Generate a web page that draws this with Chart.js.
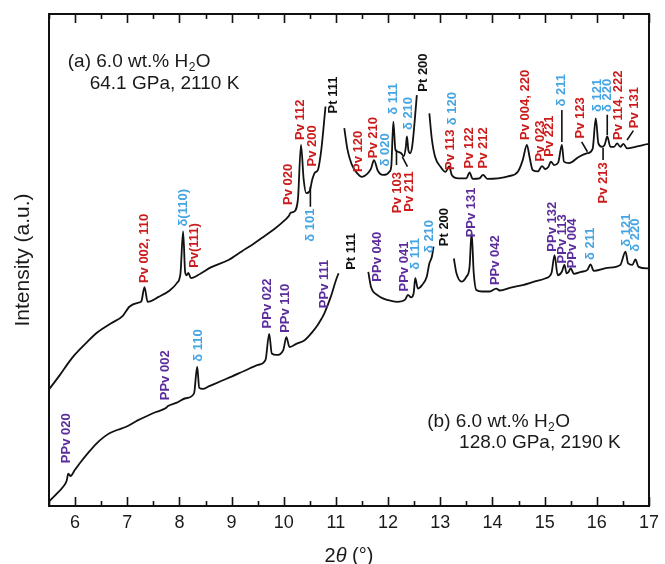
<!DOCTYPE html>
<html>
<head>
<meta charset="utf-8">
<script src="https://cdn.jsdelivr.net/npm/chart.js@4.4.0/dist/chart.umd.min.js"></script>
<style>
  html, body { margin: 0; padding: 0; background: #fff; }
  canvas { display: block; }
</style>
</head>
<body>
<canvas id="xrdChart" width="665" height="564"></canvas>
<script>
// x axis tick labels (2-theta, degrees)
var xTicks = [6, 7, 8, 9, 10, 11, 12, 13, 14, 15, 16, 17];

// pattern (a) 64.1 GPa, 2110 K -- null marks where the Pt peaks were cut out
var thetaA = [5.5, 5.7, 5.9, 6.0, 6.2, 6.43, 6.7, 6.91, 7.04, 7.2, 7.27, 7.33, 7.39, 7.6, 7.8, 7.95, 8.02, 8.07, 8.11, 8.14, 8.17, 8.22, 8.4, 8.6, 8.94, 9.2, 9.41, 9.57, 9.82, 10.02, 10.1, 10.13, 10.19, 10.27, 10.33, 10.38, 10.43, 10.49, 10.55, 10.6, 10.65, 10.72, 10.8,
  11.0,
  11.16, 11.22, 11.3, 11.4, 11.5, 11.6, 11.67, 11.73, 11.8, 11.9, 11.97, 12.02, 12.06, 12.1, 12.14, 12.19, 12.25, 12.3, 12.34, 12.36, 12.39, 12.42, 12.46, 12.5, 12.55,
  12.7,
  12.79, 12.84, 12.9, 13.0, 13.1, 13.17, 13.22, 13.35, 13.5, 13.56, 13.62, 13.75, 13.82, 13.9, 14.1, 14.3, 14.49, 14.58, 14.66, 14.71, 14.77, 14.87, 14.95, 15.01, 15.07, 15.12, 15.18, 15.26, 15.33, 15.37, 15.47, 15.66, 15.82, 15.92, 15.98, 16.03, 16.1, 16.15, 16.2, 16.26, 16.33, 16.39, 16.45, 16.51, 16.58, 16.74, 16.9, 17.0];
var intensityA = [23.7, 26.5, 29.5, 30.8, 33.0, 35.3, 37.2, 38.6, 40.5, 41.3, 41.6, 44.5, 41.5, 42.5, 43.7, 45.3, 47.3, 55.8, 47.5, 46.9, 47.4, 46.3, 47.2, 48.5, 50.0, 51.8, 53.2, 54.4, 56.3, 58.1, 59.0, 59.6, 59.8, 62.2, 73.4, 66.5, 63.6, 63.9, 66.5, 67.8, 68.2, 72.5, 81.2,
  null,
  76.8, 72.5, 69.5, 67.7, 66.9, 67.5, 68.5, 70.3, 68.2, 67.3, 67.4, 67.9, 69.0, 78.1, 72.4, 72.0, 71.7, 71.1, 73.0, 75.1, 72.2, 71.7, 73.0, 77.1, 83.5,
  null,
  79.8, 74.4, 71.0, 69.0, 67.9, 69.0, 67.3, 66.6, 66.6, 67.8, 66.5, 66.6, 67.3, 66.5, 66.6, 67.0, 68.0, 70.3, 73.4, 71.0, 68.3, 68.0, 69.1, 68.5, 68.9, 70.0, 69.3, 69.8, 73.4, 70.0, 69.7, 71.0, 71.7, 72.6, 78.8, 73.7, 73.0, 73.4, 75.1, 73.0, 73.0, 73.7, 73.0, 73.6, 72.7, 73.0, 73.4, 73.6];

// pattern (b) 128.0 GPa, 2190 K
var thetaB = [5.5, 5.65, 5.77, 5.84, 5.87, 5.91, 6.0, 6.09, 6.25, 6.41, 6.55, 6.66, 6.82, 6.98, 7.2, 7.36, 7.55, 7.74, 7.78, 7.95, 8.12, 8.28, 8.34, 8.38, 8.45, 8.56, 8.8, 9.0, 9.25, 9.51, 9.65, 9.72, 9.77, 9.86, 9.99, 10.05, 10.11, 10.25, 10.4, 10.55, 10.65, 10.72, 10.78, 10.9, 11.0, 11.05,
  11.3,
  11.62, 11.67, 11.72, 11.79, 11.9, 11.98, 12.17, 12.33, 12.38, 12.44, 12.49, 12.52, 12.57, 12.65, 12.74, 12.79, 12.84, 12.87,
  13.1,
  13.26, 13.31, 13.41, 13.5, 13.56, 13.6, 13.64, 13.69, 13.8, 13.95, 14.07, 14.14, 14.35, 14.58, 14.8, 15.02, 15.13, 15.19, 15.25, 15.33, 15.38, 15.42, 15.46, 15.5, 15.56, 15.7, 15.82, 15.88, 15.94, 16.2, 16.45, 16.55, 16.6, 16.68, 16.74, 16.8, 16.96, 17.0];
var intensityB = [0.9, 2.5, 3.9, 5.2, 6.6, 6.1, 7.4, 8.7, 10.8, 12.7, 14.0, 14.8, 15.5, 16.1, 17.4, 18.2, 19.1, 19.9, 20.3, 21.0, 21.9, 22.9, 28.3, 24.0, 23.8, 24.3, 25.4, 26.3, 27.5, 28.7, 29.7, 35.0, 31.0, 30.7, 31.7, 34.3, 32.3, 33.0, 33.7, 35.4, 36.8, 38.0, 39.2, 42.5, 45.9, 47.3,
  null,
  47.6, 44.6, 43.5, 42.9, 42.2, 41.9, 41.5, 42.0, 42.9, 42.4, 43.3, 46.3, 44.2, 44.9, 46.6, 49.3, 50.7, 52.7,
  null,
  50.3, 47.3, 45.6, 46.6, 48.5, 55.6, 47.5, 43.9, 43.6, 43.6, 44.2, 43.8, 44.4, 44.9, 45.6, 46.3, 47.3, 51.0, 46.9, 47.6, 49.0, 47.3, 47.6, 48.3, 47.2, 47.6, 48.0, 49.1, 47.8, 48.4, 49.0, 51.7, 49.3, 49.0, 50.1, 48.6, 48.3, 48.4];

// reflection labels for (a): name, 2-theta, intensity at the foot of the label
var peakNamesA = ['Pv 002, 110', 'δ(110)', 'Pv(111)', 'Pv 020', 'δ 101', 'Pv 112', 'Pv 200', 'Pt 111', 'Pv 120', 'Pv 210', 'δ 020', 'δ 111', 'δ 210', 'Pt 200', 'Pv 103', 'Pv 211', 'Pv 113', 'δ 120', 'Pv 122', 'Pv 212', 'Pv 004, 220', 'Pv 023', 'Pv 221', 'δ 211', 'Pv 123', 'δ 121', 'δ 220', 'Pv 213', 'Pv 114, 222', 'Pv 131'];
var peakThetaA = [7.33, 8.07, 8.29, 10.08, 10.52, 10.32, 10.54, 10.96, 11.43, 11.72, 11.95, 12.1, 12.38, 12.68, 12.17, 12.41, 13.19, 13.24, 13.56, 13.83, 14.63, 14.91, 15.1, 15.33, 15.69, 16.01, 16.2, 16.12, 16.42, 16.72];
var labelFootA = [45.3, 56.8, 48.4, 61.2, 53.7, 74.4, 69.0, 79.8, 67.9, 70.7, 69.0, 79.5, 76.4, 84.2, 59.5, 59.8, 68.3, 77.4, 68.6, 68.6, 74.4, 70.0, 71.0, 81.2, 74.7, 80.1, 80.1, 61.5, 74.4, 76.8];

// reflection labels for (b)
var peakNamesB = ['PPv 020', 'PPv 002', 'δ 110', 'PPv 022', 'PPv 110', 'PPv 111', 'Pt 111', 'PPv 040', 'PPv 041', 'δ 111', 'δ 210', 'Pt 200', 'PPv 131', 'PPv 042', 'PPv 132', 'PPv 113', 'PPv 004', 'δ 211', 'δ 121', 'δ 220'];
var peakThetaB = [5.84, 7.74, 8.37, 9.69, 10.04, 10.78, 11.29, 11.79, 12.31, 12.52, 12.79, 13.07, 13.6, 14.06, 15.15, 15.34, 15.53, 15.88, 16.56, 16.74];
var labelFootB = [8.7, 21.5, 29.3, 36.1, 35.2, 40.2, 48.0, 45.6, 43.6, 48.0, 51.4, 52.8, 54.6, 44.9, 51.7, 49.3, 48.3, 50.0, 52.7, 51.7];

// short leader lines tying labels to peaks in (a): [theta0, int0, theta1, int1]
var leadersA = [[10.51, 64.9, 10.51, 60.8], [12.16, 72.4, 12.16, 69.3], [12.27, 71.0, 12.37, 69.0], [15.33, 80.5, 15.33, 74.0], [16.2, 79.5, 16.2, 75.4], [16.12, 72.8, 16.12, 70.3], [15.71, 74.0, 15.82, 72.0], [16.58, 74.4, 16.7, 76.3]];

var FONT = '"Liberation Sans", Arial, Helvetica, sans-serif';

function toPoints(xs, ys) {
  return xs.map(function(x, i) { return { x: x, y: ys[i] }; });
}

function phaseColor(name) {
  if (name.indexOf('PPv') === 0) return '#5b2d9c';
  if (name.indexOf('Pv') === 0) return '#cc1b1b';
  if (name.indexOf('δ') === 0) return '#45a4e2';
  return '#111111';
}

// text with a subscript "2" in H2O
function drawSampleText(c, x, y, head, tail) {
  c.font = '19px ' + FONT;
  c.fillText(head, x, y);
  var w = c.measureText(head).width;
  c.font = '12px ' + FONT;
  c.fillText('2', x + w + 0.5, y + 4);
  var w2 = c.measureText('2').width;
  c.font = '19px ' + FONT;
  c.fillText(tail, x + w + w2 + 1, y);
}

var xrdDecor = {
  id: 'xrdDecor',
  afterDraw: function(chart) {
    var c = chart.ctx;
    var area = chart.chartArea;
    var xs = chart.scales.x, ys = chart.scales.y;
    c.save();

    // frame
    c.strokeStyle = '#111';
    c.lineWidth = 2;
    c.strokeRect(area.left, area.top, area.right - area.left, area.bottom - area.top);

    // inward ticks, top and bottom
    c.lineWidth = 1.6;
    c.beginPath();
    xTicks.forEach(function(v) {
      var px = Math.round(xs.getPixelForValue(v)) + 0.5;
      c.moveTo(px, area.bottom); c.lineTo(px, area.bottom - 9);
      c.moveTo(px, area.top); c.lineTo(px, area.top + 9);
      var pm = Math.round(xs.getPixelForValue(v - 0.5)) + 0.5;
      c.moveTo(pm, area.bottom); c.lineTo(pm, area.bottom - 5);
      c.moveTo(pm, area.top); c.lineTo(pm, area.top + 5);
    });
    c.stroke();

    // leader lines
    c.lineWidth = 1.6;
    c.beginPath();
    leadersA.forEach(function(l) {
      c.moveTo(xs.getPixelForValue(l[0]), ys.getPixelForValue(l[1]));
      c.lineTo(xs.getPixelForValue(l[2]), ys.getPixelForValue(l[3]));
    });
    c.stroke();

    // reflection labels, rotated
    c.font = 'bold 13px ' + FONT;
    c.textAlign = 'left';
    c.textBaseline = 'middle';
    function drawLabels(names, thetas, feet) {
      names.forEach(function(name, i) {
        c.save();
        c.translate(xs.getPixelForValue(thetas[i]), ys.getPixelForValue(feet[i]));
        c.rotate(-Math.PI / 2);
        c.fillStyle = phaseColor(name);
        c.fillText(name, 0, 0);
        c.restore();
      });
    }
    drawLabels(peakNamesA, peakThetaA, labelFootA);
    drawLabels(peakNamesB, peakThetaB, labelFootB);

    // sample conditions
    c.fillStyle = '#1a1a1a';
    c.textBaseline = 'alphabetic';
    c.textAlign = 'left';
    drawSampleText(c, xs.getPixelForValue(5.86), ys.getPixelForValue(89.2), '(a) 6.0 wt.% H', 'O');
    c.font = '19px ' + FONT;
    c.fillText('64.1 GPa, 2110 K', xs.getPixelForValue(6.28), ys.getPixelForValue(84.8));
    drawSampleText(c, xs.getPixelForValue(12.75), ys.getPixelForValue(16.1), '(b) 6.0 wt.% H', 'O');
    c.font = '19px ' + FONT;
    c.fillText('128.0 GPa, 2190 K', xs.getPixelForValue(13.36), ys.getPixelForValue(11.8));

    // axis titles
    c.save();
    c.font = '21px ' + FONT;
    c.textAlign = 'center';
    c.textBaseline = 'middle';
    c.translate(23, (area.top + area.bottom) / 2);
    c.rotate(-Math.PI / 2);
    c.fillText('Intensity (a.u.)', 0, 0);
    c.restore();

    var parts = [['2', '20px '], ['θ', 'italic 20px '], [' (°)', '20px ']];
    var total = 0;
    parts.forEach(function(p) { c.font = p[1] + FONT; total += c.measureText(p[0]).width; });
    var tx = (area.left + area.right) / 2 - total / 2;
    c.textBaseline = 'alphabetic';
    parts.forEach(function(p) {
      c.font = p[1] + FONT;
      c.fillText(p[0], tx, 562);
      tx += c.measureText(p[0]).width;
    });

    c.restore();
  }
};

var ctx = document.getElementById('xrdChart').getContext('2d');
var xrdChart = new Chart(ctx, {
  type: 'line',
  data: {
    datasets: [{
      label: '(a)',
      data: toPoints(thetaA, intensityA),
      borderColor: '#111',
      borderWidth: 1.8,
      pointRadius: 0,
      cubicInterpolationMode: 'monotone',
      spanGaps: false
    }, {
      label: '(b)',
      data: toPoints(thetaB, intensityB),
      borderColor: '#111',
      borderWidth: 1.8,
      pointRadius: 0,
      cubicInterpolationMode: 'monotone',
      spanGaps: false
    }]
  },
  options: {
    responsive: false,
    animation: false,
    layout: { padding: { left: 49, right: 12, top: 14, bottom: 0 } },
    plugins: {
      legend: { display: false },
      tooltip: { enabled: false }
    },
    scales: {
      x: {
        type: 'linear',
        min: 5.5,
        max: 17,
        grid: { display: false, drawTicks: false },
        border: { display: false },
        afterBuildTicks: function(scale) {
          scale.ticks = xTicks.map(function(v) { return { value: v }; });
        },
        afterFit: function(scale) { scale.height = 58; },
        ticks: {
          padding: 6,
          color: '#1a1a1a',
          maxRotation: 0,
          font: { family: FONT, size: 18 }
        }
      },
      y: { display: false, min: 0, max: 100 }
    }
  },
  plugins: [xrdDecor]
});
</script>
</body>
</html>
